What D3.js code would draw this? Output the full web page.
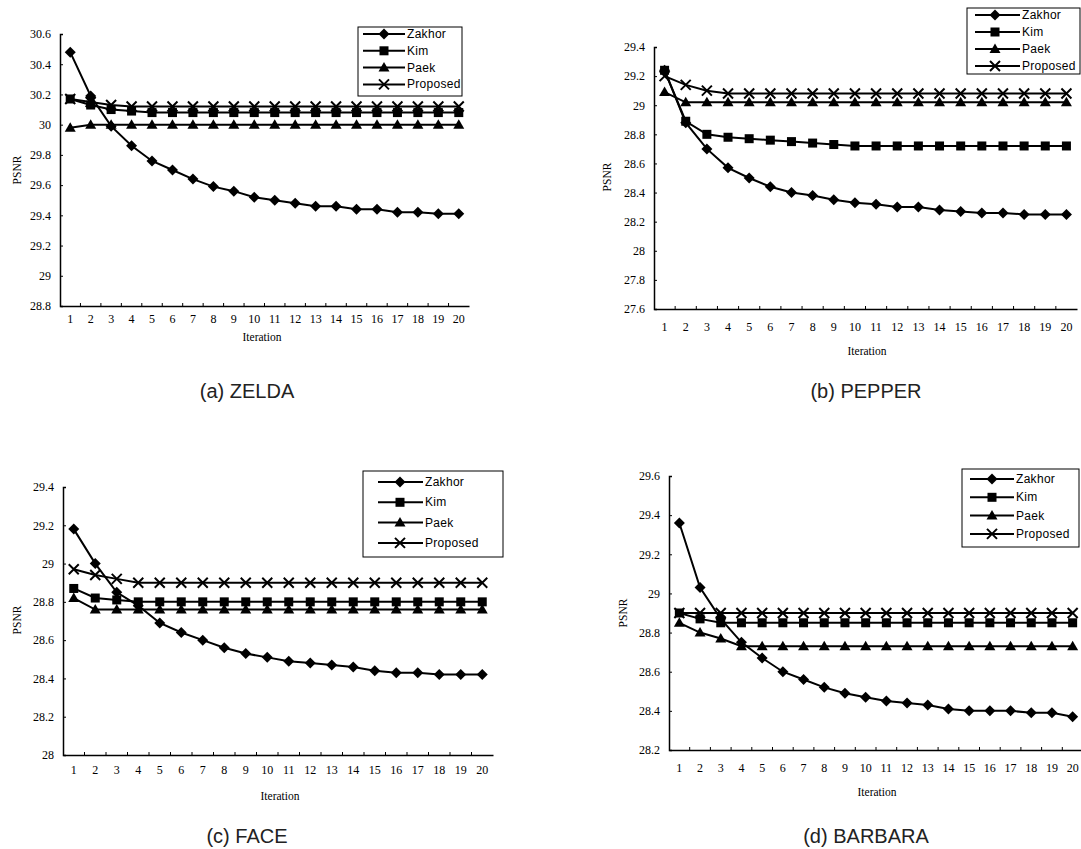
<!DOCTYPE html>
<html>
<head>
<meta charset="utf-8">
<script src="https://cdn.jsdelivr.net/npm/d3@7"></script>
<style>
  body { margin: 0; background: #fff; }
  svg { display: block; }
  .tick-label { font-family: "Liberation Serif", "DejaVu Serif", serif; font-size: 12px; fill: #000; }
  .axis-title { font-family: "Liberation Serif", serif; font-size: 11.5px; fill: #000; }
  .legend-text { font-family: "Liberation Sans", Arial, sans-serif; font-size: 12px; fill: #000; letter-spacing: 0.3px; }
  .caption { font-family: "Liberation Sans", Arial, sans-serif; font-size: 20px; fill: #222; }
</style>
</head>
<body>
<div id="chart"></div>
<script>
// categories and series
const iterations = [1, 2, 3, 4, 5, 6, 7, 8, 9, 10, 11, 12, 13, 14, 15, 16, 17, 18, 19, 20];
const seriesNames = ["Zakhor", "Kim", "Paek", "Proposed"];

// (a) ZELDA
const zeldaZakhor   = [30.48, 30.19, 29.99, 29.86, 29.76, 29.70, 29.64, 29.59, 29.56, 29.52, 29.50, 29.48, 29.46, 29.46, 29.44, 29.44, 29.42, 29.42, 29.41, 29.41];
const zeldaKim      = [30.17, 30.13, 30.10, 30.09, 30.08, 30.08, 30.08, 30.08, 30.08, 30.08, 30.08, 30.08, 30.08, 30.08, 30.08, 30.08, 30.08, 30.08, 30.08, 30.08];
const zeldaPaek     = [29.98, 30.00, 30.00, 30.00, 30.00, 30.00, 30.00, 30.00, 30.00, 30.00, 30.00, 30.00, 30.00, 30.00, 30.00, 30.00, 30.00, 30.00, 30.00, 30.00];
const zeldaProposed = [30.17, 30.15, 30.13, 30.12, 30.12, 30.12, 30.12, 30.12, 30.12, 30.12, 30.12, 30.12, 30.12, 30.12, 30.12, 30.12, 30.12, 30.12, 30.12, 30.12];

// (b) PEPPER
const pepperZakhor   = [29.24, 28.88, 28.70, 28.57, 28.50, 28.44, 28.40, 28.38, 28.35, 28.33, 28.32, 28.30, 28.30, 28.28, 28.27, 28.26, 28.26, 28.25, 28.25, 28.25];
const pepperKim      = [29.24, 28.89, 28.80, 28.78, 28.77, 28.76, 28.75, 28.74, 28.73, 28.72, 28.72, 28.72, 28.72, 28.72, 28.72, 28.72, 28.72, 28.72, 28.72, 28.72];
const pepperPaek     = [29.09, 29.02, 29.02, 29.02, 29.02, 29.02, 29.02, 29.02, 29.02, 29.02, 29.02, 29.02, 29.02, 29.02, 29.02, 29.02, 29.02, 29.02, 29.02, 29.02];
const pepperProposed = [29.20, 29.14, 29.10, 29.08, 29.08, 29.08, 29.08, 29.08, 29.08, 29.08, 29.08, 29.08, 29.08, 29.08, 29.08, 29.08, 29.08, 29.08, 29.08, 29.08];

// (c) FACE
const faceZakhor   = [29.18, 29.00, 28.85, 28.78, 28.69, 28.64, 28.60, 28.56, 28.53, 28.51, 28.49, 28.48, 28.47, 28.46, 28.44, 28.43, 28.43, 28.42, 28.42, 28.42];
const faceKim      = [28.87, 28.82, 28.81, 28.80, 28.80, 28.80, 28.80, 28.80, 28.80, 28.80, 28.80, 28.80, 28.80, 28.80, 28.80, 28.80, 28.80, 28.80, 28.80, 28.80];
const facePaek     = [28.82, 28.76, 28.76, 28.76, 28.76, 28.76, 28.76, 28.76, 28.76, 28.76, 28.76, 28.76, 28.76, 28.76, 28.76, 28.76, 28.76, 28.76, 28.76, 28.76];
const faceProposed = [28.97, 28.94, 28.92, 28.90, 28.90, 28.90, 28.90, 28.90, 28.90, 28.90, 28.90, 28.90, 28.90, 28.90, 28.90, 28.90, 28.90, 28.90, 28.90, 28.90];

// (d) BARBARA
const barbaraZakhor   = [29.36, 29.03, 28.87, 28.75, 28.67, 28.60, 28.56, 28.52, 28.49, 28.47, 28.45, 28.44, 28.43, 28.41, 28.40, 28.40, 28.40, 28.39, 28.39, 28.37];
const barbaraKim      = [28.90, 28.87, 28.85, 28.85, 28.85, 28.85, 28.85, 28.85, 28.85, 28.85, 28.85, 28.85, 28.85, 28.85, 28.85, 28.85, 28.85, 28.85, 28.85, 28.85];
const barbaraPaek     = [28.85, 28.80, 28.77, 28.73, 28.73, 28.73, 28.73, 28.73, 28.73, 28.73, 28.73, 28.73, 28.73, 28.73, 28.73, 28.73, 28.73, 28.73, 28.73, 28.73];
const barbaraProposed = [28.90, 28.90, 28.90, 28.90, 28.90, 28.90, 28.90, 28.90, 28.90, 28.90, 28.90, 28.90, 28.90, 28.90, 28.90, 28.90, 28.90, 28.90, 28.90, 28.90];

// y tick labels per panel
const zeldaTicks   = [28.8, 29, 29.2, 29.4, 29.6, 29.8, 30, 30.2, 30.4, 30.6];
const pepperTicks  = [27.6, 27.8, 28, 28.2, 28.4, 28.6, 28.8, 29, 29.2, 29.4];
const faceTicks    = [28, 28.2, 28.4, 28.6, 28.8, 29, 29.2, 29.4];
const barbaraTicks = [28.2, 28.4, 28.6, 28.8, 29, 29.2, 29.4, 29.6];

// layout of each panel (pixels)
const panels = [
  { series: [zeldaZakhor, zeldaKim, zeldaPaek, zeldaProposed], ticks: zeldaTicks, caption: "(a)  ZELDA",
    left: 60, right: 469, top: 34, bottom: 306, xLabY: 320, xTitle: [262, 337], yTitle: [17, 170], cap: [247, 391],
    legend: { x: 358, y: 27, w: 104, h: 69, row0: 7, dy: 16.8, l0: 5, m: 26, l1: 47, t: 49 } },
  { series: [pepperZakhor, pepperKim, pepperPaek, pepperProposed], ticks: pepperTicks, caption: "(b)  PEPPER",
    left: 654, right: 1077, top: 47, bottom: 309, xLabY: 328, xTitle: [867, 351], yTitle: [607, 177], cap: [866, 391],
    legend: { x: 967, y: 8, w: 113, h: 66, row0: 7, dy: 17, l0: 8, m: 28, l1: 53, t: 55 } },
  { series: [faceZakhor, faceKim, facePaek, faceProposed], ticks: faceTicks, caption: "(c)  FACE",
    left: 63, right: 493, top: 487, bottom: 755, xLabY: 771, xTitle: [280, 796], yTitle: [17, 620], cap: [247, 836],
    legend: { x: 363, y: 471, w: 140, h: 86, row0: 11, dy: 20.3, l0: 15, m: 37, l1: 60, t: 62 } },
  { series: [barbaraZakhor, barbaraKim, barbaraPaek, barbaraProposed], ticks: barbaraTicks, caption: "(d)  BARBARA",
    left: 669, right: 1083, top: 476, bottom: 750, xLabY: 769, xTitle: [877, 792], yTitle: [623, 613], cap: [866, 836],
    legend: { x: 962, y: 469, w: 117, h: 78, row0: 10, dy: 18.3, l0: 8, m: 30, l1: 52, t: 54 } }
];

const width = 1081, height = 849;

const svg = d3.select("#chart").append("svg")
    .attr("width", width)
    .attr("height", height);

// marker shapes, one per series
function drawMarker(g, k, x, y) {
  if (k === 0) {
    const r = 5.5;
    g.append("path").attr("d", `M${x},${y - r}L${x + r},${y}L${x},${y + r}L${x - r},${y}Z`).attr("fill", "#000");
  } else if (k === 1) {
    g.append("rect").attr("x", x - 4.5).attr("y", y - 4.5).attr("width", 9).attr("height", 9).attr("fill", "#000");
  } else if (k === 2) {
    g.append("path").attr("d", `M${x},${y - 5.5}L${x + 5.5},${y + 4}L${x - 5.5},${y + 4}Z`).attr("fill", "#000");
  } else {
    const r = 5;
    g.append("path").attr("d", `M${x - r},${y - r}L${x + r},${y + r}M${x + r},${y - r}L${x - r},${y + r}`)
        .attr("stroke", "#000").attr("stroke-width", 2).attr("fill", "none");
  }
}

panels.forEach(p => {
  const g = svg.append("g");

  const x = d3.scaleBand()
      .domain(iterations)
      .range([p.left, p.right]);

  const y = d3.scaleLinear()
      .domain([p.ticks[0], p.ticks[p.ticks.length - 1]])
      .range([p.bottom, p.top]);

  const cx = d => x(d) + x.bandwidth() / 2;

  // y axis
  const yAxis = g.append("g")
      .attr("transform", `translate(${p.left},0)`)
      .call(d3.axisLeft(y).tickValues(p.ticks).tickSize(-3).tickPadding(9).tickFormat(d => String(+d.toFixed(1))));
  yAxis.select(".domain").attr("stroke", "#000").attr("stroke-width", 1.5);
  yAxis.selectAll(".tick line").attr("stroke", "#000");
  yAxis.selectAll(".tick text").attr("class", "tick-label").attr("font-family", null).attr("font-size", null);

  // x axis: labels centred on categories, ticks on category boundaries
  const xAxis = g.append("g")
      .attr("transform", `translate(0,${p.bottom})`)
      .call(d3.axisBottom(x).tickSize(0).tickPadding(p.xLabY - p.bottom - 6));
  xAxis.select(".domain").attr("stroke", "#000").attr("stroke-width", 1.5);
  xAxis.selectAll(".tick text").attr("class", "tick-label").attr("font-family", null).attr("font-size", null);

  g.append("g").selectAll("line")
      .data(iterations.slice(1))
      .enter().append("line")
      .attr("x1", d => x(d)).attr("x2", d => x(d))
      .attr("y1", p.bottom).attr("y2", p.bottom - 3)
      .attr("stroke", "#000");

  // titles
  g.append("text")
      .attr("class", "axis-title")
      .attr("x", p.xTitle[0]).attr("y", p.xTitle[1])
      .attr("text-anchor", "middle")
      .attr("dominant-baseline", "central")
      .text("Iteration");

  g.append("text")
      .attr("class", "axis-title")
      .attr("transform", `translate(${p.yTitle[0]},${p.yTitle[1]}) rotate(-90)`)
      .attr("text-anchor", "middle")
      .attr("dominant-baseline", "central")
      .text("PSNR");

  g.append("text")
      .attr("class", "caption")
      .attr("x", p.cap[0]).attr("y", p.cap[1])
      .attr("text-anchor", "middle")
      .attr("dominant-baseline", "central")
      .text(p.caption);

  // series lines and markers
  const line = d3.line()
      .x((d, i) => cx(iterations[i]))
      .y(d => y(d));

  p.series.forEach((values, k) => {
    g.append("path")
        .datum(values)
        .attr("d", line)
        .attr("fill", "none")
        .attr("stroke", "#000")
        .attr("stroke-width", 2);
    const mg = g.append("g");
    values.forEach((v, i) => drawMarker(mg, k, cx(iterations[i]), y(v)));
  });

  // legend
  const L = p.legend;
  const lg = g.append("g").attr("transform", `translate(${L.x},${L.y})`);
  lg.append("rect")
      .attr("width", L.w).attr("height", L.h)
      .attr("fill", "#fff").attr("stroke", "#000").attr("stroke-width", 1);
  seriesNames.forEach((name, k) => {
    const ry = L.row0 + k * L.dy;
    lg.append("line")
        .attr("x1", L.l0).attr("x2", L.l1)
        .attr("y1", ry).attr("y2", ry)
        .attr("stroke", "#000").attr("stroke-width", 2);
    drawMarker(lg, k, L.m, ry);
    lg.append("text")
        .attr("class", "legend-text")
        .attr("x", L.t).attr("y", ry)
        .attr("dominant-baseline", "central")
        .text(name);
  });
});
</script>
</body>
</html>
